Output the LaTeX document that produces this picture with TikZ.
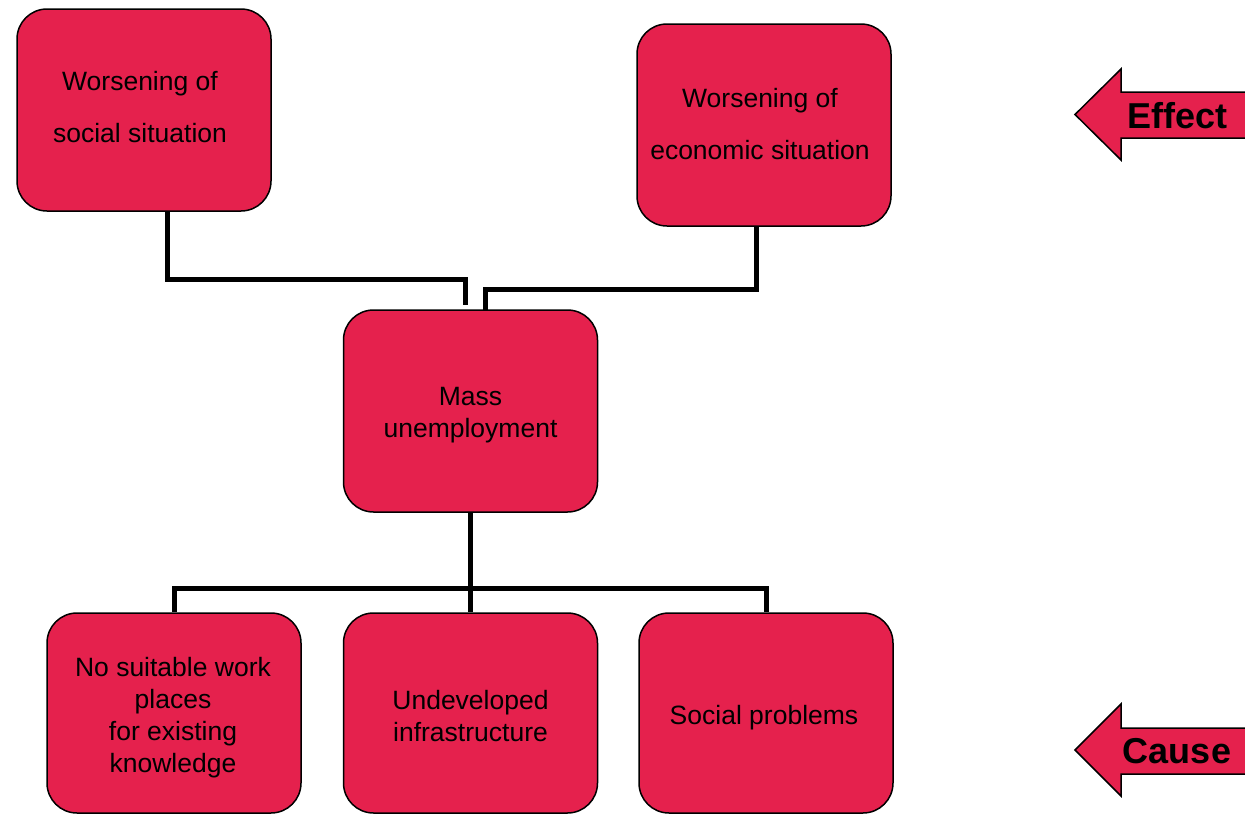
\documentclass[tikz,border=0pt]{standalone}
\usepackage{fontspec}
\setmainfont{Liberation Sans}
\definecolor{boxred}{RGB}{229,33,77}
\begin{document}
\begin{tikzpicture}[x=1pt,y=-1pt,
  box/.style={draw=black,line width=1.5pt,fill=boxred,rounded corners=30pt,
    minimum width=254pt,minimum height=202pt,inner sep=0pt},
  txt/.style={align=center,inner sep=0pt,font=\fontsize{26.5}{32}\selectfont},
  wide/.style={font=\fontsize{26.5}{52}\selectfont},
  conn/.style={line width=5pt,draw=black},
  arrowshape/.style={draw=black,line width=1.5pt,fill=boxred,line join=miter},
  arrowlabel/.style={font=\fontsize{36}{40}\selectfont\bfseries,inner sep=0pt}]
\useasboundingbox (0,0) rectangle (1245,814);
\clip (0,0) rectangle (1245,814);
\node[box] (A) at (144,110) {};
\node[box] (B) at (764,125) {};
\node[box] (M) at (470.5,411) {};
\node[box,minimum height=200pt] (C1) at (174,713) {};
\node[box,minimum height=200pt] (C2) at (470.5,713) {};
\node[box,minimum height=200pt] (C3) at (766,713) {};
\node[txt,wide] (At) at ([shift={(-4,-3)}]A.center) {Worsening of\\social situation};
\node[txt,wide] (Bt) at ([shift={(-4,-1)}]B.center) {Worsening of\\economic situation};
\node[txt] (Mt) at ([shift={(0,4)}]M.center) {Mass\\unemployment};
\node[txt] (C1t) at ([shift={(-1,5)}]C1.center) {No suitable work\\places\\for existing\\knowledge};
\node[txt] (C2t) at ([shift={(0,3)}]C2.center) {Undeveloped\\infrastructure};
\node[txt] (C3t) at ([shift={(-2,5)}]C3.center) {Social problems};
% top connectors
\coordinate (jA) at (465,279);
\coordinate (jB) at (485.5,289);
\draw[conn] ([xshift=23pt]A.south) |- (jA) -- ([yshift=4pt]M.north -| jA);
\draw[conn] ([xshift=-8pt]B.south) |- (jB) -- ([yshift=-2pt]M.north -| jB);
% bottom connectors
\coordinate (bus) at (470.5,588);
\draw[conn] (M.south) -- (bus) -- (C2.north);
\draw[conn] (C1.north) -- (C1.north |- bus) -- (C3.north |- bus) -- (C3.north);
% effect arrow
\fill[boxred] (1250,92) -- (1121,92) -- (1121,69) -- (1075,114.5) -- (1121,160) -- (1121,138) -- (1250,138) -- cycle;
\draw[arrowshape,fill=none] (1250,92) -- (1121,92) -- (1121,69) -- (1075,114.5) -- (1121,160) -- (1121,138) -- (1250,138);
\node[arrowlabel] (eff) at (1177.5,116) {Effect};
% cause arrow
\fill[boxred] (1250,728) -- (1121,728) -- (1121,704) -- (1075,750) -- (1121,796) -- (1121,774) -- (1250,774) -- cycle;
\draw[arrowshape,fill=none] (1250,728) -- (1121,728) -- (1121,704) -- (1075,750) -- (1121,796) -- (1121,774) -- (1250,774);
\node[arrowlabel] (cau) at (1177,751) {Cause};
\end{tikzpicture}
\end{document}
